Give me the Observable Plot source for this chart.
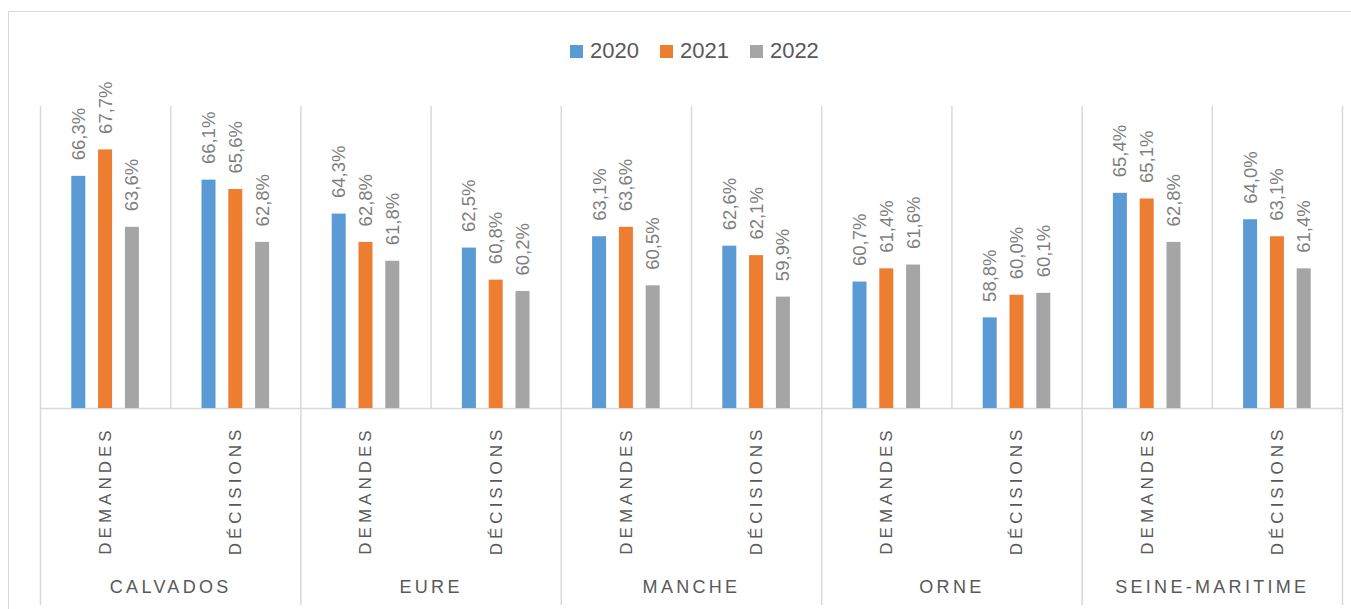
<!DOCTYPE html>
<html>
<head>
<meta charset="utf-8">
<script src="https://cdn.jsdelivr.net/npm/d3@7"></script>
<script src="https://cdn.jsdelivr.net/npm/@observablehq/plot@0.6"></script>
<style>
  html, body { margin: 0; padding: 0; background: #fff; }
  #wrap { position: relative; width: 1351px; height: 609px; overflow: hidden; font-family: "Liberation Sans", Arial, sans-serif; }
  #border { position: absolute; left: 8px; top: 11px; width: 3000px; height: 3000px; border-top: 1.5px solid #d9d9d9; border-left: 1.5px solid #d9d9d9; }
  #legend { position: absolute; top: 38px; left: 570px; display: flex; align-items: center; font-size: 22px; color: #595959; line-height: 26px; }
  #legend .item { display: flex; align-items: center; margin-right: 21px; }
  #legend .sw { width: 13px; height: 13px; margin-right: 7px; }
  #chart { position: absolute; left: 0; top: 0; }
  svg g[fill="#595959"] text { letter-spacing: 3.3px; }
  svg g[fill="#5a5a5a"] text { letter-spacing: 4px; }
</style>
</head>
<body>
<div id="wrap">
  <div id="border"></div>
  <div id="chart"></div>
  <div id="legend"></div>
</div>
<script>
// ---- Data ----
const departments = ["CALVADOS", "EURE", "MANCHE", "ORNE", "SEINE-MARITIME"];
const types = ["DEMANDES", "DÉCISIONS"];
const years = ["2020", "2021", "2022"];
const v2020 = [66.3, 66.1, 64.3, 62.5, 63.1, 62.6, 60.7, 58.8, 65.4, 64.0];
const v2021 = [67.7, 65.6, 62.8, 60.8, 63.6, 62.1, 61.4, 60.0, 65.1, 63.1];
const v2022 = [63.6, 62.8, 61.8, 60.2, 60.5, 59.9, 61.6, 60.1, 62.8, 61.4];
const colors = ["#5B9BD5", "#ED7D31", "#A5A5A5"];
const yMin = 54, yMax = 70;

// ---- Build tables ----
const groups = [];
departments.forEach((dep, di) => types.forEach((t, ti) => groups.push({k: groups.length, dep, type: t})));
const series = [v2020, v2021, v2022];
const rows = [];
groups.forEach(g => years.forEach((yr, yi) => rows.push({k: g.k, year: yr, yi, value: series[yi][g.k]})));
const deptRows = departments.map((d, i) => ({name: d, i}));

// layout constants (in units of one sub-category)
const step = 0.2058, bw = 0.1075;
const cx = d => d.k + 0.5 + (d.yi - 1) * step;
const fmt = d => d.value.toFixed(1).replace(".", ",") + "%";

const chart = Plot.plot({
  width: 1351,
  height: 609,
  marginLeft: 40,
  marginRight: 9,
  marginTop: 106,
  marginBottom: 201,
  x: {type: "linear", domain: [0, groups.length], axis: null},
  y: {domain: [yMin, yMax], axis: null},
  color: {domain: years, range: colors},
  style: {background: "transparent", fontFamily: "'Liberation Sans', Arial, sans-serif"},
  marks: [
    Plot.ruleX(d3.range(groups.length + 1), {x: d => d, stroke: "#d9d9d9", strokeWidth: 1.5}),
    Plot.ruleX(d3.range(0, groups.length + 1, types.length), {x: d => d, insetTop: 302, insetBottom: -197, stroke: "#d9d9d9", strokeWidth: 1.5}),
    Plot.ruleY([yMin], {stroke: "#d9d9d9", strokeWidth: 1.5}),
    Plot.rect(rows, {x1: d => cx(d) - bw / 2, x2: d => cx(d) + bw / 2, y1: yMin, y2: "value", fill: "year"}),
    Plot.text(rows, {x: cx, y: "value", text: fmt, rotate: -90, textAnchor: "start", lineAnchor: "middle", dy: -16, fill: "#7f7f7f", fontSize: 18.5}),
    Plot.text(groups, {x: d => d.k + 0.5, frameAnchor: "bottom", text: "type", rotate: -90, textAnchor: "middle", lineAnchor: "middle", dy: 82, fill: "#5a5a5a", fontSize: 17}),
    Plot.text(deptRows, {x: d => d.i * types.length + types.length / 2, frameAnchor: "bottom", text: "name", textAnchor: "middle", lineAnchor: "middle", dy: 179, fill: "#595959", fontSize: 18})
  ]
});
document.getElementById("chart").appendChild(chart);

// ---- Legend ----
const lg = document.getElementById("legend");
years.forEach((y, i) => {
  const it = document.createElement("div");
  it.className = "item";
  const sw = document.createElement("div");
  sw.className = "sw";
  sw.style.background = colors[i];
  const tx = document.createElement("span");
  tx.textContent = y;
  it.appendChild(sw); it.appendChild(tx);
  lg.appendChild(it);
});
</script>
</body>
</html>
